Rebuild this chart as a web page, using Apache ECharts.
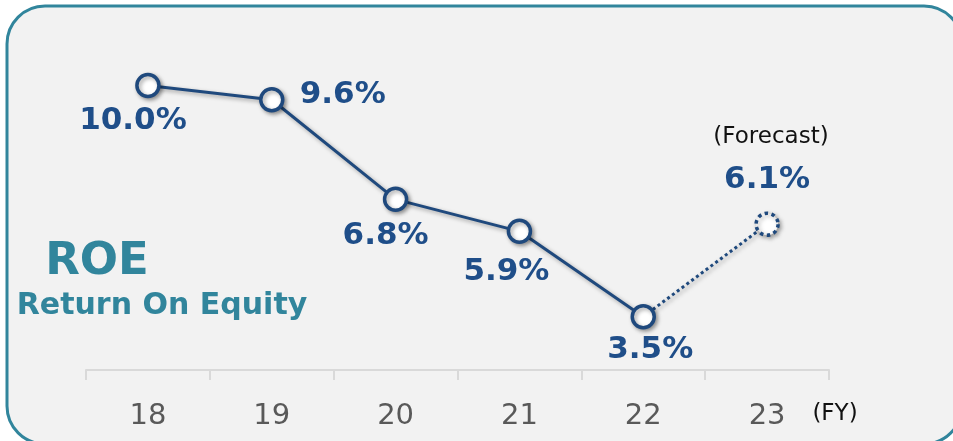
<!DOCTYPE html>
<html>
<head>
<meta charset="utf-8">
<script src="https://cdn.jsdelivr.net/npm/echarts@6/dist/echarts.min.js"></script>
<style>
  html, body { margin: 0; padding: 0; background: #fff; }
  #chart { width: 953px; height: 441px; }
</style>
</head>
<body>
<div id="chart"></div>
<script>
const years = ['18', '19', '20', '21', '22', '23'];
const roeActual = [10.0, 9.6, 6.8, 5.9, 3.5];
const roeForecast = 6.1;

// label offsets from each point's centre (px)
const labelOffsets = [[-15, 35], [71, -5], [-10, 37], [-13, 41], [7, 33], [0, -44]];

const navy = '#1f497d';
const labelNavy = '#1f4e89';
const teal = '#31859c';

const chart = echarts.init(document.getElementById('chart'));

const labelStyle = {
  show: true,
  position: 'inside',
  formatter: p => p.value.toFixed(1) + '%',
  fontFamily: 'DejaVu Sans',
  fontWeight: 'bold',
  fontSize: 31,
  color: labelNavy,
};

const actualData = roeActual.map((v, i) => ({
  value: v,
  label: { offset: labelOffsets[i] },
}));

const forecastData = years.map((y, i) => {
  if (i === roeActual.length - 1) return { value: roeActual[i], symbol: 'none', label: { show: false } };
  if (i === roeActual.length) return { value: roeForecast, label: { offset: labelOffsets[i] } };
  return null;
});

const shadow = {
  shadowColor: 'rgba(0,0,0,0.35)',
  shadowBlur: 4,
  shadowOffsetX: 2,
  shadowOffsetY: 2,
};

chart.setOption({
  animation: false,
  backgroundColor: '#fff',
  grid: { left: 86, right: 124, top: 50, bottom: 71 },
  xAxis: {
    type: 'category',
    data: years,
    boundaryGap: true,
    axisLine: { lineStyle: { color: '#d9d9d9', width: 2 } },
    axisTick: { show: true, length: 10, lineStyle: { color: '#d9d9d9', width: 2 } },
    axisLabel: {
      margin: 32,
      fontFamily: 'DejaVu Sans',
      fontSize: 29,
      color: '#595959',
    },
  },
  yAxis: {
    type: 'value',
    min: 2,
    max: 11,
    show: false,
  },
  graphic: [
    {
      type: 'rect',
      z: -10,
      silent: true,
      shape: { x: 7, y: 6, width: 955, height: 438, r: 38 },
      style: { fill: '#f2f2f2', stroke: teal, lineWidth: 3 },
    },
    {
      type: 'text',
      x: 97, y: 262,
      style: {
        text: 'ROE',
        fontFamily: 'DejaVu Sans', fontWeight: 'bold', fontSize: 45,
        fill: teal, textAlign: 'center', textVerticalAlign: 'middle',
      },
    },
    {
      type: 'text',
      x: 162, y: 306,
      style: {
        text: 'Return On Equity',
        fontFamily: 'DejaVu Sans', fontWeight: 'bold', fontSize: 30,
        fill: teal, textAlign: 'center', textVerticalAlign: 'middle',
      },
    },
    {
      type: 'text',
      x: 771, y: 137,
      style: {
        text: '(Forecast)',
        fontFamily: 'DejaVu Sans', fontSize: 23,
        fill: '#111', textAlign: 'center', textVerticalAlign: 'middle',
      },
    },
    {
      type: 'text',
      x: 835, y: 414,
      style: {
        text: '(FY)',
        fontFamily: 'DejaVu Sans', fontSize: 23,
        fill: '#111', textAlign: 'center', textVerticalAlign: 'middle',
      },
    },
  ],
  series: [
    {
      name: 'Forecast',
      type: 'line',
      z: 3,
      data: forecastData,
      connectNulls: false,
      symbol: 'circle',
      symbolSize: 22,
      lineStyle: { color: navy, width: 3, type: 'dotted', ...shadow },
      itemStyle: { color: '#fff', borderColor: navy, borderWidth: 3.5, borderType: 'dotted', ...shadow },
      label: labelStyle,
    },
    {
      name: 'ROE',
      type: 'line',
      z: 4,
      data: actualData,
      symbol: 'circle',
      symbolSize: 22,
      lineStyle: { color: navy, width: 3, ...shadow },
      itemStyle: { color: '#fff', borderColor: navy, borderWidth: 3.5, ...shadow },
      label: labelStyle,
    },
  ],
});

window.addEventListener('resize', () => chart.resize());
</script>
</body>
</html>
